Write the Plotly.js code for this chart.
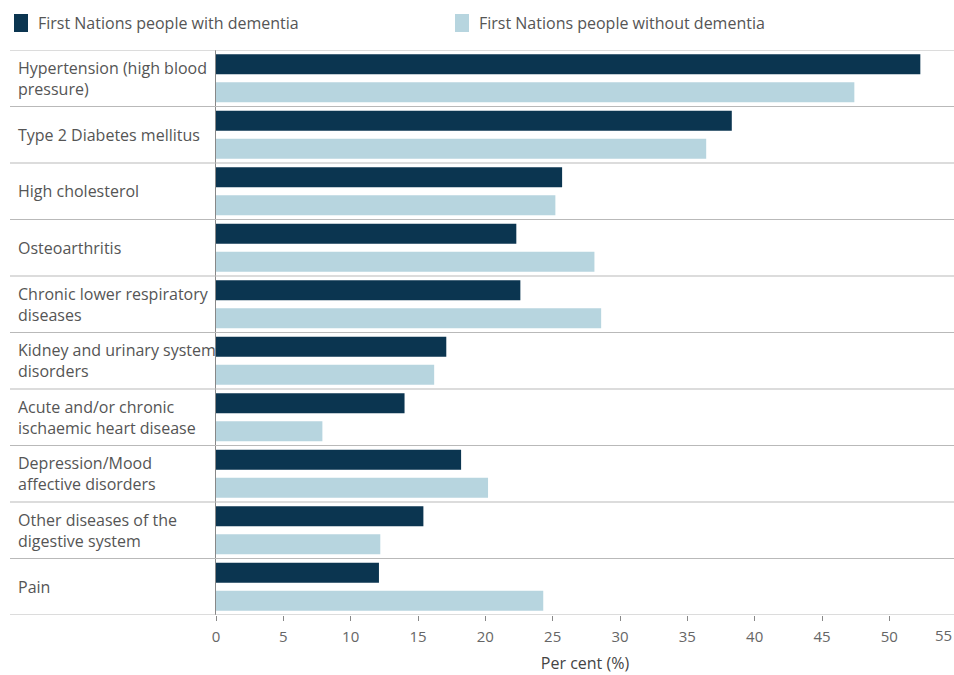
<!DOCTYPE html>
<html>
<head>
<meta charset="utf-8">
<script src="https://cdn.plot.ly/plotly-3.0.1.min.js"></script>
<style>
  html, body { margin: 0; padding: 0; background: #fff; }
  #chart { width: 954px; height: 675px; }
</style>
</head>
<body>
<div id="chart"></div>
<script>
// ---- Data ----
const categories = [
  "Hypertension (high blood<br>pressure)",
  "Type 2 Diabetes mellitus",
  "High cholesterol",
  "Osteoarthritis",
  "Chronic lower respiratory<br>diseases",
  "Kidney and urinary system<br>disorders",
  "Acute and/or chronic<br>ischaemic heart disease",
  "Depression/Mood<br>affective disorders",
  "Other diseases of the<br>digestive system",
  "Pain"
];
const withDementia    = [52.3, 38.3, 25.7, 22.3, 22.6, 17.1, 14.0, 18.2, 15.4, 12.1];
const withoutDementia = [47.4, 36.4, 25.2, 28.1, 28.6, 16.2, 7.9, 20.2, 12.2, 24.3];
const seriesNames = ["First Nations people with dementia", "First Nations people without dementia"];
const tickValues = [0, 5, 10, 15, 20, 25, 30, 35, 40, 45, 50];
const lastTickLabel = "55";
const axisTitle = "Per cent (%)";

// ---- Style ----
const DARK = "#0b3550";
const LIGHT = "#b7d5df";
const FONT = "Open Sans, sans-serif";
const TEXT = "#555555";
const GRID = "#b9b9b9";

const L = 216, R = 0, T = 50, B = 60;
const W = 954, H = 675;
const plotW = W - L - R;
const plotH = H - T - B;
const xMax = 54.8;
const px2x = p => (p - L) / plotW;          // page x pixel -> paper x
const py2y = p => 1 - (p - T) / plotH;      // page y pixel -> paper y

const catIdx = categories.map((c, i) => i);
const colors = [DARK, LIGHT];

const traces = [withDementia, withoutDementia].map((vals, k) => ({
  type: "bar", orientation: "h", name: seriesNames[k],
  x: vals, y: catIdx,
  marker: { color: colors[k] },
  hoverinfo: "x",
  showlegend: false
}));

// row separator lines spanning the label column and plot
const shapes = [];
for (let i = 0; i <= categories.length; i++) {
  shapes.push({
    type: "line", xref: "paper", yref: "y",
    x0: px2x(10), x1: 1,
    y0: i - 0.5, y1: i - 0.5,
    line: { color: GRID, width: 1 }
  });
}

// category labels (left aligned in the label column)
const annotations = categories.map((c, i) => ({
  xref: "paper", yref: "y",
  x: px2x(16), y: i,
  xanchor: "left", yanchor: "middle", align: "left",
  text: c, showarrow: false,
  font: { family: FONT, size: 16, color: TEXT }
}));

// legend (top)
const legendX = [14, 455];
seriesNames.forEach((n, k) => {
  shapes.push({
    type: "rect", xref: "paper", yref: "paper",
    x0: px2x(legendX[k]), x1: px2x(legendX[k] + 14),
    y0: py2y(32), y1: py2y(14),
    fillcolor: colors[k], line: { width: 0 }
  });
  annotations.push({
    xref: "paper", yref: "paper",
    x: px2x(legendX[k] + 22), y: py2y(23),
    xanchor: "left", yanchor: "middle",
    text: n, showarrow: false,
    font: { family: FONT, size: 16, color: TEXT }
  });
});

// last tick label (its tick falls just past the right edge)
annotations.push({
  xref: "paper", yref: "paper",
  x: px2x(943), y: py2y(635),
  xanchor: "center", yanchor: "middle",
  text: lastTickLabel, showarrow: false,
  font: { family: FONT, size: 15, color: "#666" }
});

const layout = {
  width: W, height: H,
  margin: { l: L, r: R, t: T, b: B, pad: 0 },
  paper_bgcolor: "#fff", plot_bgcolor: "#fff",
  font: { family: FONT, color: TEXT },
  barmode: "group",
  bargap: 0.01,
  bargroupgap: 0.28,
  showlegend: false,
  xaxis: {
    range: [0, xMax],
    tickvals: tickValues,
    ticks: "outside", ticklen: 5, tickcolor: "#888",
    ticklabelstandoff: 3,
    showgrid: false, zeroline: false,
    showline: false,
    tickfont: { family: FONT, size: 15, color: "#666" },
    title: { text: axisTitle, font: { family: FONT, size: 16, color: "#444" }, standoff: 12 },
    fixedrange: true
  },
  yaxis: {
    range: [categories.length - 0.5, -0.5],
    showticklabels: false, ticks: "",
    showgrid: false, zeroline: false,
    showline: true, linecolor: "#888", linewidth: 1,
    fixedrange: true
  },
  shapes: shapes,
  annotations: annotations
};

Plotly.newPlot("chart", traces, layout, { displayModeBar: false, staticPlot: true });
</script>
</body>
</html>
